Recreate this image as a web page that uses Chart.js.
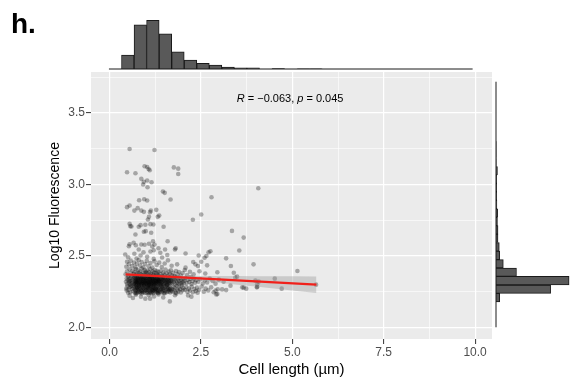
<!DOCTYPE html>
<html>
<head>
<meta charset="utf-8">
<script src="https://cdn.jsdelivr.net/npm/chart.js@4.4.1/dist/chart.umd.min.js"></script>
<style>
  html, body { margin: 0; padding: 0; background: #fff; }
  #wrap { position: relative; width: 572px; height: 383px; }
  canvas { position: absolute; }
</style>
</head>
<body>
<div id="wrap">
  <canvas id="mainChart" width="572" height="383" style="left:0;top:0"></canvas>
  <canvas id="topHist" width="572" height="70" style="left:0;top:0"></canvas>
  <canvas id="sideHist" width="80" height="267" style="left:492px;top:72px"></canvas>
</div>
<script>
const FONT = "'Liberation Sans', Arial, Helvetica, sans-serif";

// axis limits (ggplot adds 5% around the data)
const X_MIN = -0.506, X_MAX = 10.462;
const Y_MIN = 1.918, Y_MAX = 3.785;

const xMajor = [0, 2.5, 5, 7.5, 10];
const xTickLabels = ['0.0', '2.5', '5.0', '7.5', '10.0'];
const yMajor = [2, 2.5, 3, 3.5];
const yTickLabels = ['2.0', '2.5', '3.0', '3.5'];

// [cell length, log10 fluorescence]
const cells = [
  // bottom edge of the cloud
  [0.55,2.221],[0.64,2.205],[0.72,2.228],[0.86,2.213],[0.98,2.2],[1.07,2.225],[1.11,2.2],[1.22,2.216],[1.34,2.23],[1.47,2.209],
  [1.65,2.181],[1.79,2.224],[2.15,2.223],[2.24,2.214],
  // cloud, lower half
  [0.46,2.271],[0.49,2.288],[0.52,2.262],[0.55,2.279],[0.57,2.245],[0.6,2.291],[0.62,2.268],[0.64,2.252],[0.51,2.241],[0.58,2.284],
  [0.66,2.276],[0.47,2.258],
  [0.68,2.289],[0.69,2.262],[0.7,2.244],[0.71,2.278],[0.72,2.255],[0.73,2.293],[0.74,2.267],[0.75,2.239],[0.76,2.281],[0.77,2.258],
  [0.78,2.272],[0.79,2.247],[0.8,2.287],[0.81,2.264],[0.82,2.251],[0.83,2.279],[0.84,2.242],[0.85,2.269],[0.86,2.291],[0.87,2.256],
  [0.88,2.275],[0.89,2.248],[0.9,2.284],[0.91,2.261],[0.92,2.243],[0.93,2.273],[0.94,2.289],[0.95,2.253],[0.96,2.266],[0.97,2.24],
  [0.98,2.282],[0.99,2.259],[1.0,2.271],[0.715,2.236],[0.805,2.295],[0.875,2.237],[0.955,2.294],[0.745,2.276],
  [1.02,2.263],[1.03,2.286],[1.04,2.248],[1.05,2.274],[1.06,2.257],[1.07,2.291],[1.08,2.241],[1.09,2.268],[1.1,2.282],[1.11,2.252],
  [1.12,2.276],[1.13,2.244],[1.14,2.289],[1.15,2.261],[1.16,2.27],[1.17,2.249],[1.18,2.284],[1.19,2.258],[1.2,2.239],[1.21,2.277],
  [1.22,2.265],[1.23,2.292],[1.24,2.253],[1.25,2.271],[1.26,2.245],[1.27,2.283],[1.28,2.26],[1.29,2.274],[1.3,2.25],[1.31,2.288],
  [1.32,2.263],[1.33,2.242],[1.34,2.279],[1.35,2.256],[1.025,2.24],[1.085,2.295],[1.145,2.237],[1.205,2.294],[1.265,2.266],[1.325,2.238],
  [1.055,2.278],[1.175,2.265],
  [1.37,2.272],[1.38,2.247],[1.39,2.286],[1.4,2.259],[1.42,2.268],[1.43,2.243],[1.44,2.281],[1.45,2.255],[1.47,2.29],[1.48,2.263],
  [1.49,2.24],[1.5,2.276],[1.52,2.252],[1.53,2.284],[1.55,2.266],[1.56,2.245],[1.58,2.278],[1.59,2.258],[1.6,2.27],[1.62,2.249],
  [1.63,2.287],[1.64,2.261],[1.66,2.243],[1.67,2.275],[1.69,2.256],[1.41,2.294],[1.51,2.238],[1.57,2.293],[1.65,2.268],[1.46,2.27],
  [1.71,2.266],[1.73,2.248],[1.75,2.283],[1.77,2.258],[1.79,2.274],[1.81,2.242],[1.84,2.29],[1.86,2.262],[1.88,2.251],[1.9,2.279],
  [1.93,2.266],[1.95,2.244],[1.97,2.287],[2.0,2.259],[2.02,2.273],[1.83,2.236],
  [2.06,2.262],[2.1,2.281],[2.13,2.249],[2.17,2.27],[2.2,2.257],[2.25,2.284],[2.28,2.245],[2.32,2.268],[2.36,2.253],[2.39,2.277],
  [2.45,2.262],[2.52,2.285],[2.58,2.249],[2.63,2.27],[2.7,2.258],[2.78,2.279],[2.85,2.245],[2.96,2.266],
  // cloud, upper half
  [0.45,2.318],[0.47,2.341],[0.48,2.303],[0.5,2.329],[0.51,2.352],[0.53,2.311],[0.54,2.336],[0.56,2.298],[0.57,2.324],[0.59,2.347],
  [0.6,2.307],[0.62,2.332],[0.63,2.316],[0.65,2.344],[0.66,2.301],[0.55,2.321],
  [0.68,2.327],[0.685,2.305],[0.69,2.349],[0.7,2.314],[0.705,2.336],[0.71,2.299],[0.72,2.323],[0.725,2.345],[0.73,2.309],[0.74,2.331],
  [0.745,2.353],[0.75,2.317],[0.76,2.302],[0.765,2.339],[0.77,2.325],[0.78,2.311],[0.785,2.347],[0.79,2.333],[0.8,2.297],[0.81,2.319],
  [0.815,2.341],[0.82,2.306],[0.83,2.328],[0.835,2.35],[0.84,2.313],[0.85,2.337],[0.855,2.3],[0.86,2.322],[0.87,2.344],[0.875,2.308],
  [0.88,2.33],[0.89,2.316],[0.895,2.352],[0.9,2.303],[0.91,2.326],[0.915,2.34],[0.92,2.311],[0.93,2.334],[0.935,2.298],[0.94,2.32],
  [0.95,2.346],[0.955,2.307],[0.96,2.329],[0.97,2.315],[0.975,2.342],[0.98,2.301],[0.99,2.324],[0.995,2.338],[1.0,2.31],[0.725,2.32],
  [1.01,2.333],[1.015,2.305],[1.02,2.347],[1.03,2.318],[1.035,2.297],[1.04,2.327],[1.05,2.341],[1.055,2.309],[1.06,2.322],[1.07,2.352],
  [1.075,2.301],[1.08,2.314],[1.09,2.336],[1.095,2.325],[1.1,2.306],[1.11,2.344],[1.115,2.317],[1.12,2.33],[1.13,2.299],[1.135,2.321],
  [1.14,2.349],[1.15,2.31],[1.155,2.335],[1.16,2.303],[1.17,2.326],[1.175,2.343],[1.18,2.313],[1.19,2.331],[1.195,2.298],[1.2,2.32],
  [1.21,2.339],[1.215,2.307],[1.22,2.328],[1.23,2.351],[1.235,2.315],[1.24,2.302],[1.25,2.334],[1.255,2.323],[1.26,2.346],[1.27,2.31],
  [1.275,2.329],[1.28,2.3],[1.29,2.319],[1.295,2.342],[1.3,2.312],[1.31,2.335],[1.315,2.304],[1.32,2.326],[1.33,2.348],[1.335,2.316],
  [1.34,2.331],[1.35,2.299],[1.355,2.322],[1.105,2.354],
  [1.36,2.338],[1.37,2.311],[1.375,2.327],[1.38,2.349],[1.39,2.303],[1.4,2.324],[1.41,2.34],[1.415,2.314],[1.42,2.299],[1.43,2.332],
  [1.44,2.318],[1.45,2.345],[1.46,2.307],[1.47,2.328],[1.48,2.337],[1.49,2.301],[1.5,2.321],[1.51,2.343],[1.52,2.312],[1.53,2.33],
  [1.54,2.305],[1.55,2.326],[1.56,2.348],[1.57,2.316],[1.58,2.334],[1.59,2.3],[1.6,2.323],[1.61,2.341],[1.62,2.309],[1.63,2.329],
  [1.64,2.318],[1.65,2.346],[1.66,2.304],[1.67,2.325],[1.68,2.339],[1.69,2.313],[1.465,2.352],[1.575,2.297],
  [1.71,2.327],[1.72,2.306],[1.74,2.342],[1.76,2.318],[1.78,2.333],[1.8,2.301],[1.82,2.325],[1.84,2.348],[1.85,2.312],[1.87,2.336],
  [1.89,2.304],[1.91,2.322],[1.92,2.344],[1.94,2.31],[1.96,2.331],[1.98,2.299],[2.0,2.319],[2.02,2.339],[2.03,2.308],[1.77,2.353],
  [2.05,2.326],[2.08,2.344],[2.11,2.309],[2.14,2.331],[2.18,2.317],[2.21,2.338],[2.24,2.303],[2.27,2.323],[2.31,2.341],[2.34,2.312],
  [2.37,2.329],[2.22,2.352],
  [2.43,2.318],[2.48,2.337],[2.55,2.306],[2.61,2.328],[2.67,2.313],[2.74,2.341],[2.82,2.324],[2.9,2.305],[2.99,2.333],[3.12,2.318],
  // just above the fit line
  [0.44,2.37],[0.48,2.392],[0.52,2.361],[0.55,2.405],[0.58,2.378],[0.61,2.357],[0.63,2.396],[0.66,2.372],
  [0.68,2.385],[0.7,2.36],[0.72,2.408],[0.74,2.376],[0.76,2.366],[0.78,2.398],[0.8,2.381],[0.82,2.358],[0.84,2.39],[0.86,2.371],
  [0.88,2.411],[0.9,2.363],[0.92,2.383],[0.94,2.356],[0.96,2.401],[0.97,2.374],[0.99,2.388],[1.0,2.362],
  [1.02,2.379],[1.04,2.397],[1.06,2.359],[1.08,2.384],[1.1,2.369],[1.12,2.406],[1.14,2.375],[1.16,2.357],[1.18,2.391],[1.2,2.367],
  [1.22,2.382],[1.24,2.4],[1.26,2.361],[1.28,2.377],[1.3,2.394],[1.32,2.365],[1.34,2.386],[1.35,2.356],
  [1.38,2.373],[1.41,2.395],[1.44,2.36],[1.47,2.382],[1.5,2.368],[1.53,2.404],[1.56,2.377],[1.59,2.358],[1.62,2.389],[1.65,2.371],
  [1.68,2.398],[1.7,2.364],[1.74,2.381],[1.78,2.359],[1.82,2.393],[1.86,2.37],[1.9,2.386],[1.95,2.362],[2.0,2.379],[2.06,2.4],
  [2.12,2.366],[2.2,2.388],[2.3,2.371],[2.46,2.392],[2.62,2.376],[2.95,2.385],
  [0.46,2.423],[0.48,2.458],[0.53,2.44],[0.58,2.466],[0.62,2.428],[0.67,2.452],[0.71,2.419],[0.75,2.445],[0.8,2.47],[0.84,2.431],
  [0.88,2.456],[0.93,2.417],[0.97,2.442],[1.02,2.464],[1.07,2.426],[1.12,2.449],[1.17,2.418],[1.23,2.461],[1.29,2.435],[1.36,2.452],
  [1.43,2.421],[1.51,2.446],[1.6,2.468],[1.7,2.43],[1.85,2.44],[2.08,2.417],[2.29,2.456],[2.35,2.44],[2.42,2.428],[2.67,2.433],
  [3.32,2.428],[3.94,2.44],
  [0.43,2.509],[0.51,2.49],[0.68,2.514],[0.74,2.481],[0.85,2.502],[0.93,2.524],[1.03,2.493],[1.12,2.53],[1.21,2.478],[1.39,2.521],
  [1.44,2.488],[1.58,2.505],[2.08,2.516],[2.44,2.502],[2.51,2.458],[2.6,2.486],[2.65,2.498],[3.19,2.482],
  [0.53,2.567],[0.55,2.581],[0.66,2.591],[0.72,2.574],[0.8,2.544],[0.87,2.579],[0.96,2.577],[1.08,2.584],[1.17,2.565],[1.21,2.539],
  [1.23,2.579],[1.34,2.553],[1.52,2.544],[1.79,2.544],[1.81,2.553],[2.71,2.525],[2.76,2.532],[3.55,2.537],
  // sparse high values
  [1.19,2.602],[1.59,2.602],[3.67,2.627],[0.71,2.649],[0.94,2.668],[0.99,2.672],[1.14,2.661],[1.48,2.703],[3.35,2.674],[0.55,2.724],
  [0.57,2.707],[0.6,2.705],[0.8,2.703],[0.85,2.714],[0.98,2.717],[1.12,2.721],[1.2,2.719],[1.05,2.754],[1.08,2.772],[1.32,2.772],
  [1.36,2.781],[2.28,2.752],[2.51,2.789],[0.48,2.84],[0.55,2.851],[0.68,2.816],[0.77,2.833],[0.87,2.816],[0.94,2.807],[1.11,2.805],
  [1.13,2.816],[1.28,2.821],[0.81,2.888],[0.95,2.895],[1.03,2.886],[1.67,2.893],[2.79,2.909],[1.46,2.949],[1.51,2.94],[4.07,2.972],
  [1.04,2.979],[0.92,2.998],[1.15,3.014],[0.94,3.017],[1.03,3.026],[0.87,3.038],[1.88,3.072],[0.71,3.077],[0.48,3.084],[1.1,3.098],
  [1.07,3.107],[1.88,3.109],[1.76,3.118],[1.03,3.121],[0.96,3.126],[1.23,3.24],[0.55,3.247],
  // long cells on the right
  [2.92,2.23],[2.95,2.232],[3.08,2.265],[3.19,2.26],[3.31,2.291],[3.4,2.381],[3.44,2.347],[3.49,2.354],[3.63,2.279],[3.67,2.277],
  [3.74,2.27],[3.99,2.326],[4.03,2.279],[4.04,2.3],[4.04,2.283],[4.08,2.319],[4.52,2.34],[4.71,2.27],[5.14,2.393],[5.65,2.298],
  [2.9,2.256],[2.41,2.242]
];

// linear fit and its 95% band
const fitX = [0.44, 5.66];
const fitY = [2.370, 2.298];
const bandX = [0.44, 1.0, 1.5, 2.0, 2.5, 3.0, 3.5, 4.0, 4.5, 5.0, 5.66];
const bandLow = [2.3585, 2.3558, 2.3482, 2.3366, 2.3238, 2.3107, 2.2975, 2.2843, 2.2710, 2.2577, 2.2402];
const bandHigh = [2.3815, 2.3688, 2.3626, 2.3604, 2.3594, 2.3587, 2.3581, 2.3575, 2.3570, 2.3565, 2.3558];

// marginal histogram of cell length (bin centres, counts)
const lengthBins = [0.157,0.5,0.843,1.186,1.529,1.872,2.215,2.558,2.901,3.244,3.587,3.93,4.273,4.616,4.959,
  5.302,5.645,5.988,6.331,6.674,7.017,7.36,7.703,8.046,8.389,8.732,9.075,9.418,9.761];
const lengthCounts = [0,76,240,265,191,94,49,31,22,11,7,7,0,2,0,1,1,0,0,0,0,0,0,0,0,0,0,0,0];
const lengthSpan = [-0.015, 9.932];

// marginal histogram of log10 fluorescence
const fluorBins = [2.03,2.089,2.148,2.207,2.266,2.326,2.385,2.444,2.503,2.562,2.622,2.681,2.74,2.799,2.858,
  2.918,2.977,3.036,3.095,3.154,3.214,3.273,3.332,3.391,3.45,3.51,3.569,3.628,3.687];
const fluorCounts = [0,0,0,20,299,400,112,40,20,18,11,11,8,9,5,4,4,4,8,1,1,1,0,0,0,0,0,0,0];
const fluorSpan = [2.0, 3.717];

const corrPos = [3.48, 3.597];
const corrParts = [['R', true], [' = \u22120.063, ', false], ['p', true], [' = 0.045', false]];

Chart.defaults.animation = false;
Chart.defaults.font.family = FONT;
Chart.defaults.plugins.legend.display = false;
Chart.defaults.plugins.tooltip.enabled = false;

function isMajor(v, list) {
  return list.findIndex(m => Math.abs(m - v) < 1e-6);
}

const panelBg = {
  id: 'panelBg',
  beforeDraw(chart) {
    const {ctx, chartArea: a} = chart;
    ctx.save();
    ctx.fillStyle = '#ebebeb';
    ctx.fillRect(a.left, a.top, a.right - a.left, a.bottom - a.top);
    ctx.restore();
  }
};

const labels = {
  id: 'labels',
  afterDraw(chart) {
    const {ctx, scales: {x, y}} = chart;
    ctx.save();
    ctx.fillStyle = '#000';
    ctx.textBaseline = 'middle';
    let px = x.getPixelForValue(corrPos[0]);
    const py = y.getPixelForValue(corrPos[1]);
    corrParts.forEach(([txt, italic]) => {
      ctx.font = (italic ? 'italic ' : '') + '11px ' + FONT;
      ctx.fillText(txt, px, py);
      px += ctx.measureText(txt).width;
    });
    ctx.textBaseline = 'alphabetic';
    ctx.font = 'bold 28px ' + FONT;
    ctx.fillText('h.', 11, 33);
    ctx.restore();
  }
};

const gridStyle = (list) => ({
  color: '#ffffff',
  lineWidth: c => (c.tick && isMajor(c.tick.value, list) >= 0) ? 1.2 : 0.6,
  tickColor: c => (c.tick && isMajor(c.tick.value, list) >= 0) ? '#333333' : 'rgba(0,0,0,0)',
  tickLength: 5,
  tickWidth: 1
});

new Chart(document.getElementById('mainChart'), {
  type: 'scatter',
  data: {
    datasets: [
      {
        data: fitX.map((v, i) => ({x: v, y: fitY[i]})),
        showLine: true, borderColor: '#f0201a', borderWidth: 2.2, pointRadius: 0, order: 0
      },
      {
        data: bandX.map((v, i) => ({x: v, y: bandHigh[i]})),
        showLine: true, borderWidth: 0, borderColor: 'rgba(0,0,0,0)', pointRadius: 0,
        fill: '+1', backgroundColor: 'rgba(153,153,153,0.4)', order: 1
      },
      {
        data: bandX.map((v, i) => ({x: v, y: bandLow[i]})),
        showLine: true, borderWidth: 0, borderColor: 'rgba(0,0,0,0)', pointRadius: 0, order: 1
      },
      {
        data: cells.map(([a, b]) => ({x: a, y: b})),
        pointRadius: 2.3, backgroundColor: 'rgba(0,0,0,0.3)', borderWidth: 0, order: 2
      }
    ]
  },
  options: {
    responsive: false,
    events: [],
    layout: { padding: { left: 0, right: 80, top: 72, bottom: 0 } },
    scales: {
      x: {
        type: 'linear', min: X_MIN, max: X_MAX,
        border: { display: false },
        grid: gridStyle(xMajor),
        ticks: {
          stepSize: 1.25, includeBounds: false, autoSkip: false, maxRotation: 0, padding: 1,
          color: '#4d4d4d', font: { size: 12 },
          callback: v => { const i = isMajor(v, xMajor); return i >= 0 ? xTickLabels[i] : ''; }
        },
        title: { display: true, text: 'Cell length (\u00b5m)', color: '#000', font: { size: 15 }, padding: { top: 0, bottom: 4 } },
        afterFit: s => { s.height = 44; }
      },
      y: {
        type: 'linear', min: Y_MIN, max: Y_MAX,
        border: { display: false },
        grid: gridStyle(yMajor),
        ticks: {
          stepSize: 0.25, includeBounds: false, autoSkip: false, padding: 1,
          color: '#4d4d4d', font: { size: 12 },
          callback: v => { const i = isMajor(v, yMajor); return i >= 0 ? yTickLabels[i] : ''; }
        },
        title: { display: true, text: 'Log10 Fluorescence', color: '#000', font: { size: 14 }, padding: { top: 46.6, bottom: 0 } },
        afterFit: s => { s.width = 91; }
      }
    }
  },
  plugins: [panelBg, labels]
});

new Chart(document.getElementById('topHist'), {
  type: 'bar',
  data: {
    datasets: [
      {
        type: 'line',
        data: [{x: lengthSpan[0], y: 0}, {x: lengthSpan[1], y: 0}],
        borderColor: '#1a1a1a', borderWidth: 1, pointRadius: 0, clip: false, order: 0
      },
      {
        data: lengthBins.map((v, i) => ({x: v, y: lengthCounts[i]})),
        backgroundColor: '#595959', borderColor: '#1a1a1a', borderWidth: 1,
        barPercentage: 1, categoryPercentage: 1, order: 1
      }
    ]
  },
  options: {
    responsive: false,
    events: [],
    layout: { padding: { left: 91, right: 80, top: 10, bottom: 1 } },
    scales: {
      x: { type: 'linear', min: X_MIN, max: X_MAX, offset: false, display: false },
      y: { type: 'linear', min: 0, max: 321, display: false }
    }
  }
});

new Chart(document.getElementById('sideHist'), {
  type: 'bar',
  data: {
    datasets: [
      {
        type: 'line',
        data: [{x: 0, y: fluorSpan[0]}, {x: 0, y: fluorSpan[1]}],
        borderColor: '#1a1a1a', borderWidth: 1, pointRadius: 0, clip: false, order: 0
      },
      {
        data: fluorBins.map((v, i) => ({x: fluorCounts[i], y: v})),
        backgroundColor: '#595959', borderColor: '#1a1a1a', borderWidth: 1,
        barPercentage: 1, categoryPercentage: 1, order: 1
      }
    ]
  },
  options: {
    indexAxis: 'y',
    responsive: false,
    events: [],
    layout: { padding: { left: 4, right: 2, top: 0, bottom: 0 } },
    scales: {
      y: { type: 'linear', min: Y_MIN, max: Y_MAX, offset: false, display: false },
      x: { type: 'linear', min: 0, max: 405, display: false }
    }
  }
});
</script>
</body>
</html>
